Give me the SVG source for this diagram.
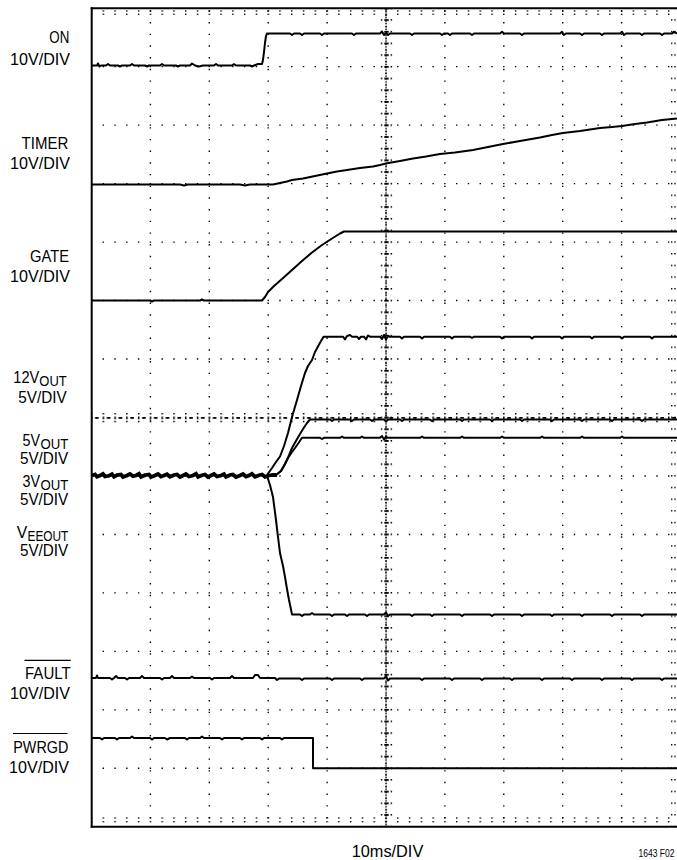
<svg xmlns="http://www.w3.org/2000/svg" width="677" height="860" viewBox="0 0 677 860">
<defs>
<style>
.lbl{font-family:"Liberation Sans",Arial,sans-serif;font-size:17px;fill:#000;text-anchor:end}
.st{text-anchor:start}
.sub{font-size:14.5px}
.gh{stroke:#000;stroke-width:1.4;stroke-dasharray:1.4 10.38;fill:none}
.gv{stroke:#000;stroke-width:1.4;stroke-dasharray:1.4 10.29;fill:none}
.tr{stroke:#000;stroke-width:2;fill:none;stroke-linejoin:round}
.ov{stroke:#000;stroke-width:1.2}
</style>
<pattern id="pl" x="0" y="7.5" width="20" height="11.69" patternUnits="userSpaceOnUse">
<rect x="92.8" y="0" width="1.4" height="1.4"/><rect x="96.2" y="0" width="1.4" height="1.4"/>
</pattern>
<pattern id="pt" x="90.8" y="0" width="11.78" height="20" patternUnits="userSpaceOnUse">
<rect x="0" y="10.3" width="1.4" height="1.4"/><rect x="0" y="13.6" width="1.4" height="1.4"/>
</pattern>
<pattern id="pb" x="90.8" y="0" width="11.78" height="20" patternUnits="userSpaceOnUse">
<rect x="0" y="17.3" width="1.4" height="1.4"/><rect x="0" y="1.0" width="1.4" height="1.4"/>
</pattern>
<pattern id="pr" x="0" y="7.5" width="20" height="11.69" patternUnits="userSpaceOnUse">
<rect x="11" y="0" width="1.4" height="1.4"/><rect x="14.3" y="0" width="1.4" height="1.4"/>
</pattern>
<pattern id="pcv" x="379" y="7.5" width="14" height="11.69" patternUnits="userSpaceOnUse">
<rect x="1.8" y="0" width="1.5" height="1.5"/><rect x="5.3" y="0" width="4.4" height="1.8"/><rect x="11.6" y="0" width="1.5" height="1.5"/>
<rect x="6.3" y="3.6" width="1.5" height="1.5"/><rect x="6.3" y="6.5" width="1.5" height="1.5"/><rect x="6.3" y="9.4" width="1.5" height="1.5"/>
</pattern>
<pattern id="pch" x="90.8" y="410" width="11.78" height="16" patternUnits="userSpaceOnUse">
<rect x="0" y="3.0" width="1.5" height="1.5"/><rect x="0" y="6.5" width="1.5" height="2.8"/><rect x="0" y="10.8" width="1.5" height="1.5"/>
<rect x="4.2" y="7" width="3.6" height="1.8"/>
</pattern>
</defs>
<rect width="677" height="860" fill="#fff"/>

<g id="grid">
<g id="grid-h">
<line class="gh" x1="102.58" y1="66.67" x2="677" y2="66.67"/>
<line class="gh" x1="102.58" y1="125.14" x2="677" y2="125.14"/>
<line class="gh" x1="102.58" y1="183.61" x2="677" y2="183.61"/>
<line class="gh" x1="102.58" y1="242.08" x2="677" y2="242.08"/>
<line class="gh" x1="102.58" y1="300.55" x2="677" y2="300.55"/>
<line class="gh" x1="102.58" y1="359.02" x2="677" y2="359.02"/>
<line class="gh" x1="102.58" y1="475.96" x2="677" y2="475.96"/>
<line class="gh" x1="102.58" y1="534.43" x2="677" y2="534.43"/>
<line class="gh" x1="102.58" y1="592.9" x2="677" y2="592.9"/>
<line class="gh" x1="102.58" y1="651.37" x2="677" y2="651.37"/>
<line class="gh" x1="102.58" y1="709.84" x2="677" y2="709.84"/>
<line class="gh" x1="102.58" y1="768.31" x2="677" y2="768.31"/>
</g>
<g id="grid-v">
<line class="gv" x1="150.4" y1="10.3" x2="150.4" y2="826"/>
<line class="gv" x1="209.3" y1="10.3" x2="209.3" y2="826"/>
<line class="gv" x1="268.2" y1="10.3" x2="268.2" y2="826"/>
<line class="gv" x1="327.1" y1="10.3" x2="327.1" y2="826"/>
<line class="gv" x1="444.9" y1="10.3" x2="444.9" y2="826"/>
<line class="gv" x1="503.8" y1="10.3" x2="503.8" y2="826"/>
<line class="gv" x1="562.7" y1="10.3" x2="562.7" y2="826"/>
<line class="gv" x1="621.6" y1="10.3" x2="621.6" y2="826"/>
</g>
<rect x="379" y="9" width="14" height="817" fill="url(#pcv)"/>
<line x1="386" y1="9" x2="386" y2="826" stroke="#000" stroke-width="1.3" stroke-dasharray="1.2 4.6"/>
<rect x="92" y="410" width="585" height="16" fill="url(#pch)"/>
<rect x="92" y="9" width="10" height="817" fill="url(#pl)"/>
<rect x="660" y="9" width="17" height="817" fill="url(#pr)"/>
<rect x="92" y="9" width="585" height="8" fill="url(#pt)"/>
<rect x="92" y="816" width="585" height="10" fill="url(#pb)"/>
<line x1="91.7" y1="7.3" x2="91.7" y2="827.8" stroke="#000" stroke-width="2"/>
<line x1="90.7" y1="8.3" x2="677" y2="8.3" stroke="#000" stroke-width="2"/>
<line x1="90.7" y1="826.8" x2="677" y2="826.8" stroke="#000" stroke-width="2"/>
</g>

<g id="traces">
<path id="tr-on" class="tr" d="M92,65.5 L97,65.5 L98,63.5 L99.5,66.5 L101,65.5 L106,65.5 L108,64 L110,65.5 L118,65.5 L120,66.5 L122,65.5 L130,65.5 L132,64 L134,65.5 L145,65.5 L147,66.5 L149,65.5 L160,65.5 L162,64 L164,65.5 L176,65.5 L178,66.5 L180,65.5 L190,65.5 L192,63.5 L195,65.5 L199,66.5 L203,65.5 L214,65.5 L216,64 L218,65.5 L232,65.5 L234,64.2 L236,65.5 L250,65.5 L252,66.5 L254,65.5 L258,64 L262,64 L263,60 L264,52 L265,43 L266,36 L267,33.5 L290,33.5 L292,35 L294,33.5 L300,33.5 L302,35 L304,33.5 L320,33.5 L322,35 L324,33.5 L352,33.5 L354,35 L356,33.5 L380,33.5 L382,31.5 L384,35 L386,33 L388,35 L390,33.5 L410,33.5 L412,35 L414,33.5 L440,33.5 L442,35 L444,33.5 L448,33.5 L450,35 L452,33.5 L470,33.5 L472,35 L474,33.5 L500,33.5 L502,31.8 L504,33.5 L520,33.5 L522,35 L524,33.5 L560,33.5 L562,31.8 L564,35 L566,33.5 L580,33.5 L582,35 L584,33.5 L600,33.5 L602,35 L604,33.5 L620,33.5 L622,31.8 L624,35 L626,33.5 L640,33.5 L642,35 L644,33.5 L660,33.5 L662,35 L664,33.5 L672,33.5 L674,31.8 L677,33.5"/>
<path id="tr-timer" class="tr" d="M92,184.5 L180,184.5 L184,185.5 L188,184.5 L240,184.5 L245,185.5 L250,184.5 L273,184.5 L280,183 L287,181.5 L292,180 L303,178.5 L315,176 L327,173.5 L337,171.5 L347,170 L360,168 L373,166.5 L380,165 L387,163.3 L400,161 L413,158.5 L426,156.5 L440,154 L455,152.5 L473,150 L488,147 L503,144 L520,141 L540,137.5 L552,135 L563,133 L580,131 L600,128 L612,127 L622,126 L635,124 L647,122.5 L662,120 L677,118.5"/>
<path id="tr-gate" class="tr" d="M92,300.5 L150,300.5 L152,301.5 L154,300.5 L200,300.5 L202,299.5 L204,300.5 L262,300.5 L265,297 L268,292 L274,286 L282,279 L292,270 L302,261 L312,252.5 L322,245 L332,238.5 L340,233.5 L344,231.5 L677,231.5"/>
<path id="tr-12v" class="tr" d="M267,475 L272,468 L276,462 L280,456.5 L284,446 L288,433 L292,417 L297,400 L301,386 L305,373 L308,366 L312,360 L315,352 L318,346.5 L321,341 L323.5,336.7 L343,336.7 L345,339.5 L347,336 L350,335 L352,336.7 L357,336.7 L359,339 L361,336.7 L364,336.7 L366,339.5 L368,335.5 L370,336.7 L380,336.7 L382,339 L384,335 L386,339.5 L388,336 L390,336.7 L400,336.7 L402,338.5 L404,336.7 L420,336.7 L422,338.5 L424,336.7 L450,336.7 L452,338.5 L454,336.7 L470,336.7 L472,338 L474,336.7 L500,336.7 L502,338.5 L504,336.7 L530,336.7 L532,338.5 L534,336.7 L560,336.7 L562,338.5 L564,336.7 L590,336.7 L592,338.5 L594,336.7 L620,336.7 L622,338.5 L624,336.7 L650,336.7 L652,338.5 L654,336.7 L677,336.7"/>
<path id="tr-5v" class="tr" d="M276,475 L281,471 L285,464 L288.5,456.5 L292,448 L296.5,440 L300,434 L303.5,428.3 L307,423 L310,419.5 L330,419.5 L332,421 L334,419.5 L350,419.5 L352,421 L354,419.5 L370,419.5 L372,421 L374,419.5 L384,419.5 L386,421.5 L388,419.5 L400,419.5 L402,421 L404,419.5 L430,419.5 L432,421 L434,419.5 L460,419.5 L462,421 L464,419.5 L490,419.5 L492,421 L494,419.5 L520,419.5 L522,421 L524,419.5 L550,419.5 L552,421 L554,419.5 L580,419.5 L582,421 L584,419.5 L610,419.5 L612,421 L614,419.5 L640,419.5 L642,421 L644,419.5 L677,419.5"/>
<path id="tr-3v" class="tr" d="M276,475 L281,471 L285,464 L288,458 L292,452 L295,448 L298.5,443 L302,437.8 L320,437.8 L322,439 L324,437.8 L340,437.8 L342,436.5 L344,437.8 L360,437.8 L362,436.5 L364,437.8 L380,437.8 L382,436 L384,439.5 L386,436.5 L388,437.8 L420,437.8 L422,436.5 L424,437.8 L460,437.8 L462,436.5 L464,437.8 L500,437.8 L502,436.5 L504,437.8 L540,437.8 L542,436.5 L544,437.8 L580,437.8 L582,436.5 L584,437.8 L620,437.8 L622,436.5 L624,437.8 L677,437.8"/>
<path id="tr-vee" class="tr" d="M267,476 L270,485 L273,497 L276,520 L278,537 L280,553 L283,566 L285,577 L287,589 L289,600 L290.5,607 L292,614.5 L300,614.5 L302,616 L304,614.5 L310,614.5 L312,613 L314,614.5 L330,614.5 L332,616 L334,614.5 L345,614.5 L347,616 L349,614.5 L365,614.5 L367,616 L369,614.5 L384,614.5 L386,612.5 L388,616 L390,614.5 L410,614.5 L412,616 L414,614.5 L430,614.5 L432,616 L434,614.5 L460,614.5 L462,616 L464,614.5 L490,614.5 L492,616 L494,614.5 L520,614.5 L522,616 L524,614.5 L550,614.5 L552,616 L554,614.5 L580,614.5 L582,616 L584,614.5 L610,614.5 L612,616 L614,614.5 L640,614.5 L642,616 L644,614.5 L677,614.5"/>
<path id="tr-base" d="M92,475.5 L95,474.5 L97,476.8 L100,475.5 L103,474 L105,476.5 L109,475.8 L112,474.2 L114,476.8 L117,475 L121,474.5 L123,477 L127,475.5 L130,474 L133,476.2 L136,475.5 L139,473.8 L141,476.8 L145,475.2 L149,474.5 L151,477 L155,475.5 L158,474 L161,476.5 L164,475.5 L167,474.2 L170,476.8 L174,475 L177,474.5 L180,477 L183,475.5 L186,474 L189,476.5 L193,475.5 L196,473.8 L198,476.8 L202,475.2 L205,474.5 L208,477 L211,475.5 L214,474 L217,476.5 L221,475.5 L224,474.2 L226,476.8 L230,475 L233,474.5 L236,477 L240,475.5 L243,474 L246,476.5 L249,475.5 L252,473.8 L255,476.8 L259,475.2 L262,474.5 L265,476.8 L269,475.5 L273,474.8 L277,475" stroke="#000" stroke-width="3.8" fill="none"/>
<path id="tr-fault" class="tr" d="M92,678 L96,678 L97,675.5 L98,678 L110,678 L112,679.5 L114,678 L116,676 L118,678 L125,678 L127,679.5 L129,678 L140,678 L142,676 L144,678 L160,678 L162,679.5 L164,678 L170,678 L172,676 L174,678 L190,678 L192,676.5 L194,678 L210,678 L212,679.5 L214,678 L230,678 L232,676 L234,678 L253,678 L255,675 L258,675 L260,678 L275,678 L277,680 L279,678.5 L300,678.5 L302,680 L304,678.5 L330,678.5 L332,680 L334,678.5 L360,678.5 L362,680 L364,678.5 L384,678.5 L386,676 L388,680.5 L390,678.5 L420,678.5 L422,680 L424,678.5 L450,678.5 L452,680 L454,678.5 L480,678.5 L482,680 L484,678.5 L510,678.5 L512,680 L514,678.5 L540,678.5 L542,680 L544,678.5 L570,678.5 L572,680 L574,678.5 L600,678.5 L602,680 L604,678.5 L630,678.5 L632,680 L634,678.5 L660,678.5 L662,680 L664,678.5 L677,678.5"/>
<path id="tr-pwrgd" class="tr" d="M92,738 L100,738 L102,739.5 L104,738 L115,738 L117,739.5 L119,738 L130,738 L132,736.5 L134,738 L150,738 L152,739.5 L154,738 L165,738 L167,739.5 L170,738 L185,738 L187,739.5 L189,738 L200,738 L202,736.5 L204,738 L220,738 L222,739.5 L224,738 L240,738 L242,739.5 L244,738 L260,738 L262,739.5 L264,738 L280,738 L282,739.5 L284,738 L313,738 L313,768.3 L677,768.3"/>
</g>

<g id="labels">
<text class="lbl" x="69.3" y="43.3" textLength="20" lengthAdjust="spacingAndGlyphs">ON</text>
<text class="lbl" x="70" y="65" textLength="60" lengthAdjust="spacingAndGlyphs">10V/DIV</text>
<text class="lbl" x="68.3" y="149.3" textLength="46.7" lengthAdjust="spacingAndGlyphs">TIMER</text>
<text class="lbl" x="70" y="169.3" textLength="60" lengthAdjust="spacingAndGlyphs">10V/DIV</text>
<text class="lbl" x="69" y="261.5" textLength="39" lengthAdjust="spacingAndGlyphs">GATE</text>
<text class="lbl" x="70" y="281.5" textLength="60" lengthAdjust="spacingAndGlyphs">10V/DIV</text>
<text class="lbl st" x="13.3" y="383" textLength="26" lengthAdjust="spacingAndGlyphs">12V</text>
<text class="lbl st sub" x="39.3" y="386" textLength="27.4" lengthAdjust="spacingAndGlyphs">OUT</text>
<text class="lbl" x="66.7" y="403.3" textLength="48.4" lengthAdjust="spacingAndGlyphs">5V/DIV</text>
<text class="lbl st" x="22.5" y="446" textLength="17.5" lengthAdjust="spacingAndGlyphs">5V</text>
<text class="lbl st sub" x="40.5" y="448.8" textLength="27.8" lengthAdjust="spacingAndGlyphs">OUT</text>
<text class="lbl" x="68.3" y="463.5" textLength="48.4" lengthAdjust="spacingAndGlyphs">5V/DIV</text>
<text class="lbl st" x="22.5" y="487" textLength="17.5" lengthAdjust="spacingAndGlyphs">3V</text>
<text class="lbl st sub" x="40.5" y="489.8" textLength="27.8" lengthAdjust="spacingAndGlyphs">OUT</text>
<text class="lbl" x="68.3" y="504.5" textLength="48.4" lengthAdjust="spacingAndGlyphs">5V/DIV</text>
<text class="lbl st" x="16.7" y="538" textLength="10.5" lengthAdjust="spacingAndGlyphs">V</text>
<text class="lbl st sub" x="27.5" y="540.8" textLength="40.8" lengthAdjust="spacingAndGlyphs">EEOUT</text>
<text class="lbl" x="68.3" y="556" textLength="48.4" lengthAdjust="spacingAndGlyphs">5V/DIV</text>
<line class="ov" x1="24.5" y1="660.3" x2="70.7" y2="660.3"/>
<text class="lbl" x="70.7" y="679" textLength="45.7" lengthAdjust="spacingAndGlyphs">FAULT</text>
<text class="lbl" x="70" y="699.3" textLength="60" lengthAdjust="spacingAndGlyphs">10V/DIV</text>
<line class="ov" x1="13" y1="733.5" x2="67.5" y2="733.5"/>
<text class="lbl" x="68.3" y="752.6" textLength="55" lengthAdjust="spacingAndGlyphs">PWRGD</text>
<text class="lbl" x="69" y="773.3" textLength="60" lengthAdjust="spacingAndGlyphs">10V/DIV</text>
<text class="lbl st" x="351.7" y="857" textLength="71.6" lengthAdjust="spacingAndGlyphs">10ms/DIV</text>
<text class="lbl st" x="638.5" y="856.5" style="font-size:10.5px" textLength="36" lengthAdjust="spacingAndGlyphs">1643 F02</text>
</g>
</svg>
